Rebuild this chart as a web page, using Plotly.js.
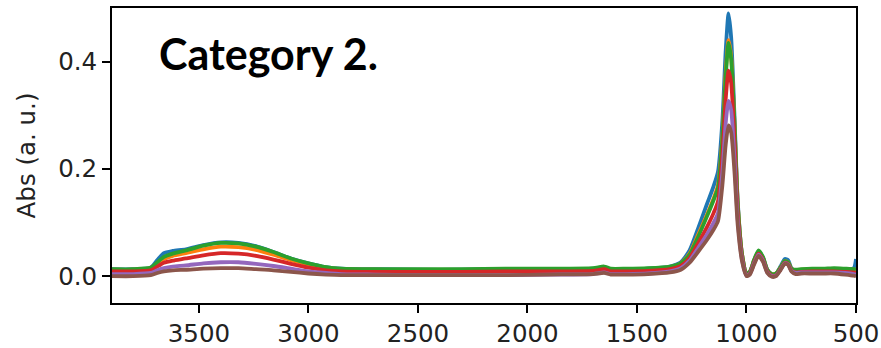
<!DOCTYPE html>
<html>
<head>
<meta charset="utf-8">
<script src="https://cdn.plot.ly/plotly-3.0.1.min.js"></script>
<style>html,body{margin:0;padding:0;background:#fff;}#chart{width:881px;height:348px;}</style>
</head>
<body>
<div id="chart"></div>
<script>
// Wavenumber (cm^-1)
const wavenumber = [3897, 3800, 3720, 3690, 3660, 3620, 3560, 3480, 3400, 3320, 3240, 3160, 3080, 3000, 2920, 2850, 2700, 2500, 2300, 2100, 1900, 1700, 1650, 1620, 1550, 1450, 1350, 1300, 1260, 1220, 1180, 1150, 1130, 1110, 1095, 1082, 1070, 1055, 1040, 1020, 1000, 985, 965, 945, 925, 905, 885, 865, 845, 825, 810, 795, 775, 750, 700, 650, 600, 550, 510, 500];

const seriesBlue = [0.013, 0.013, 0.016, 0.030, 0.043, 0.047, 0.050, 0.058, 0.063, 0.062, 0.056, 0.045, 0.033, 0.024, 0.017, 0.014, 0.013, 0.012, 0.012, 0.013, 0.013, 0.014, 0.017, 0.013, 0.013, 0.014, 0.018, 0.026, 0.048, 0.090, 0.135, 0.168, 0.195, 0.290, 0.420, 0.490, 0.445, 0.300, 0.140, 0.040, 0.006, 0.008, 0.030, 0.046, 0.035, 0.012, 0.004, 0.005, 0.018, 0.032, 0.030, 0.015, 0.010, 0.011, 0.012, 0.013, 0.013, 0.012, 0.015, 0.032];
const seriesOrange = [0.012, 0.012, 0.015, 0.024, 0.032, 0.038, 0.043, 0.050, 0.055, 0.054, 0.049, 0.040, 0.030, 0.022, 0.016, 0.013, 0.012, 0.011, 0.011, 0.012, 0.012, 0.013, 0.016, 0.012, 0.012, 0.013, 0.017, 0.024, 0.042, 0.078, 0.115, 0.145, 0.170, 0.260, 0.380, 0.440, 0.410, 0.285, 0.135, 0.040, 0.005, 0.008, 0.029, 0.045, 0.034, 0.011, 0.004, 0.005, 0.016, 0.028, 0.026, 0.014, 0.011, 0.012, 0.013, 0.013, 0.013, 0.012, 0.012, 0.012];
const seriesGreen = [0.013, 0.013, 0.016, 0.026, 0.036, 0.042, 0.048, 0.057, 0.062, 0.061, 0.055, 0.045, 0.033, 0.024, 0.017, 0.014, 0.013, 0.013, 0.013, 0.014, 0.014, 0.015, 0.018, 0.014, 0.014, 0.015, 0.018, 0.024, 0.040, 0.074, 0.112, 0.142, 0.165, 0.255, 0.370, 0.435, 0.405, 0.285, 0.135, 0.040, 0.005, 0.008, 0.031, 0.048, 0.036, 0.012, 0.004, 0.005, 0.016, 0.028, 0.026, 0.014, 0.012, 0.013, 0.014, 0.014, 0.015, 0.014, 0.013, 0.012];
const seriesRed = [0.009, 0.009, 0.011, 0.018, 0.025, 0.029, 0.033, 0.039, 0.043, 0.042, 0.038, 0.031, 0.023, 0.016, 0.011, 0.009, 0.008, 0.008, 0.008, 0.009, 0.009, 0.010, 0.013, 0.009, 0.009, 0.010, 0.013, 0.019, 0.034, 0.062, 0.092, 0.118, 0.140, 0.225, 0.330, 0.383, 0.360, 0.255, 0.120, 0.034, 0.002, 0.005, 0.026, 0.042, 0.031, 0.009, 0.001, 0.002, 0.013, 0.025, 0.023, 0.011, 0.007, 0.008, 0.009, 0.009, 0.009, 0.008, 0.007, 0.006];
const seriesPurple = [0.004, 0.004, 0.006, 0.011, 0.015, 0.018, 0.020, 0.024, 0.026, 0.026, 0.023, 0.019, 0.014, 0.009, 0.006, 0.004, 0.003, 0.002, 0.002, 0.002, 0.003, 0.004, 0.007, 0.004, 0.004, 0.005, 0.009, 0.015, 0.029, 0.053, 0.078, 0.100, 0.118, 0.195, 0.285, 0.327, 0.310, 0.220, 0.105, 0.030, 0.001, 0.004, 0.024, 0.040, 0.029, 0.007, 0.000, 0.001, 0.012, 0.024, 0.022, 0.010, 0.006, 0.007, 0.007, 0.007, 0.007, 0.006, 0.004, 0.003];
const seriesBrown = [0.000, 0.000, 0.002, 0.006, 0.009, 0.011, 0.012, 0.014, 0.015, 0.015, 0.013, 0.011, 0.008, 0.005, 0.003, 0.002, 0.002, 0.002, 0.002, 0.002, 0.003, 0.004, 0.006, 0.003, 0.003, 0.004, 0.007, 0.012, 0.025, 0.046, 0.068, 0.087, 0.103, 0.170, 0.245, 0.281, 0.268, 0.195, 0.095, 0.027, 0.000, 0.003, 0.022, 0.038, 0.027, 0.006, -0.001, 0.000, 0.011, 0.023, 0.021, 0.009, 0.004, 0.005, 0.005, 0.005, 0.005, 0.003, 0.001, 0.000];

const allSeries = [seriesBlue, seriesOrange, seriesGreen, seriesRed, seriesPurple, seriesBrown];
const colors = ['#1f77b4', '#ff7f0e', '#2ca02c', '#d62728', '#9467bd', '#8c564b'];

const xTicks = [3500, 3000, 2500, 2000, 1500, 1000, 500];
const yTicks = [0.0, 0.2, 0.4];
const yTickText = ['0.0', '0.2', '0.4'];

const traces = allSeries.map((ys, i) => ({
  x: wavenumber, y: ys, type: 'scatter', mode: 'lines',
  line: {color: colors[i], width: 3.8, shape: 'spline', smoothing: 0.6},
  showlegend: false, hoverinfo: 'skip'
}));

const axisCommon = {
  showline: true, linecolor: '#000', linewidth: 2, mirror: true,
  ticks: 'outside', ticklen: 8, tickwidth: 2, tickcolor: '#000',
  showgrid: false, zeroline: false,
  tickfont: {family: 'DejaVu Sans', size: 24.5, color: '#222'}
};

const layout = {
  width: 881, height: 348,
  margin: {l: 112, r: 25, t: 8, b: 45},
  paper_bgcolor: '#fff', plot_bgcolor: '#fff',
  xaxis: Object.assign({}, axisCommon, {
    range: [3897, 500], tickvals: xTicks, ticktext: xTicks.map(String)
  }),
  yaxis: Object.assign({}, axisCommon, {
    range: [-0.05, 0.5], tickvals: yTicks, ticktext: yTickText,
    title: {text: 'Abs (a. u.)', font: {family: 'DejaVu Sans', size: 24.5, color: '#222'}, standoff: 16}
  }),
  annotations: [{
    text: '<b>Category 2.</b>', xref: 'paper', yref: 'paper',
    x: 0.211, y: 0.845, xanchor: 'center', yanchor: 'middle', showarrow: false,
    font: {family: 'Lato', size: 43, color: '#000'}
  }]
};

Plotly.newPlot('chart', traces, layout, {displayModeBar: false, staticPlot: true});
</script>
</body>
</html>
